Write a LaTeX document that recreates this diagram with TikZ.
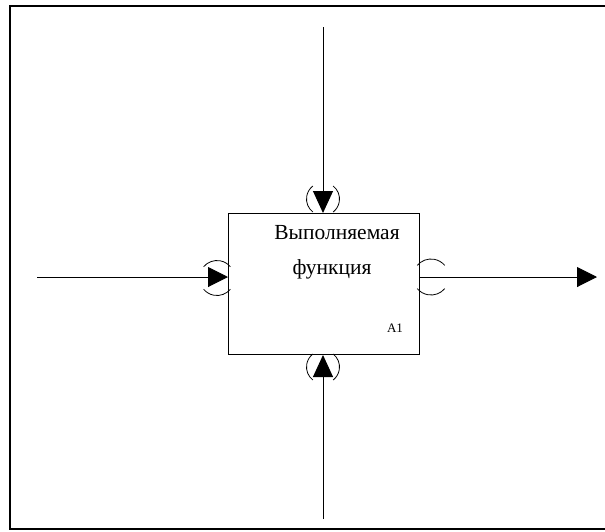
\documentclass[tikz,border=0pt]{standalone}
\usepackage{fontspec}
\setmainfont{Liberation Serif}
\usetikzlibrary{arrows.meta}
\begin{document}
\begin{tikzpicture}[x=1pt,y=-1pt,
  frame/.style={line width=2pt},
  fbox/.style={draw,line width=1pt,minimum width=191pt,minimum height=141pt,inner sep=0pt,anchor=north west},
  arrh/.style={line width=1pt,-{Triangle[length=20pt,width=20pt]}},
  arrv/.style={line width=1pt,-{Triangle[length=22pt,width=20pt]}},
  brk/.style={line width=0.8pt},
  lbl/.style={inner sep=0pt,font=\fontsize{21.5}{25}\selectfont},
  num/.style={inner sep=0pt,font=\fontsize{13}{15}\selectfont}]
\useasboundingbox (0,0) rectangle (605,531);
\draw[frame] (606,6) -- (10,6) -- (10,529) -- (606,529);
\node[fbox] (f) at (228,213) {};
\node[lbl] (t1) at (337,233) {Выполняемая};
\node[lbl] (t2) at (332,269) {функция};
\node[num] (a1) at (395,328) {A1};
\coordinate (cin) at (37,277);
\coordinate (cout) at (597,277);
\coordinate (ctop) at (323,27);
\coordinate (cbot) at (323,519);
\draw[arrh] (cin) -- (cin -| f.west);
\draw[arrh] (cout -| f.east) -- (cout);
\draw[arrv] (ctop) -- (ctop |- f.north);
\draw[arrv] (cbot) -- (cbot |- f.south);
% brackets
\draw[brk] (217,278) ++(40:17.5) arc (40:140:17.5);
\draw[brk] (217,278) ++(220:17.5) arc (220:320:17.5);
\draw[brk] (431,277) ++(40:18) arc (40:140:18);
\draw[brk] (431,277) ++(220:18) arc (220:320:18);
\draw[brk] (323,199) ++(-52:16.5) arc (-52:52:16.5);
\draw[brk] (323,199) ++(128:16.5) arc (128:232:16.5);
\draw[brk] (323,367) ++(-52:16.5) arc (-52:52:16.5);
\draw[brk] (323,367) ++(128:16.5) arc (128:232:16.5);
\end{tikzpicture}
\end{document}
